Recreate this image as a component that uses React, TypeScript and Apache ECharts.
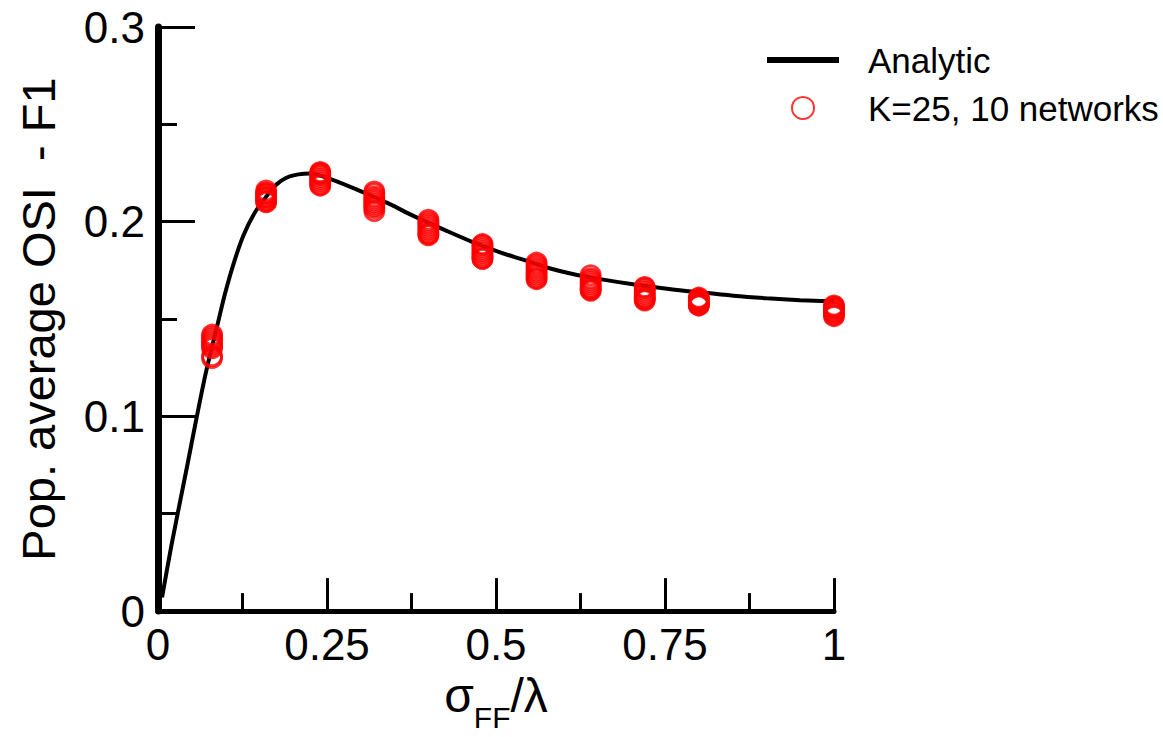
import React, { useEffect, useRef } from "react";
import * as echarts from "echarts";

// Analytic curve
const curveX = [0.006, 0.02, 0.04, 0.0695, 0.0893, 0.0991, 0.1114, 0.1262, 0.1435, 0.16, 0.1756, 0.19, 0.2076, 0.225, 0.2593, 0.2988, 0.343, 0.3777, 0.427, 0.4665, 0.506, 0.54, 0.575, 0.615, 0.654, 0.7, 0.753, 0.8, 0.851, 0.9, 0.95, 1.0];
const curveY = [0.007, 0.034, 0.069, 0.1204, 0.149, 0.163, 0.178, 0.1928, 0.2048, 0.2128, 0.2192, 0.2226, 0.2243, 0.2248, 0.2214, 0.2158, 0.209, 0.203, 0.1953, 0.1894, 0.1843, 0.1805, 0.1765, 0.173, 0.1705, 0.168, 0.1656, 0.1638, 0.162, 0.1607, 0.1597, 0.159];

// Simulation: K=25, 10 networks at each sigma value
const simX = [0.08, 0.16, 0.24, 0.32, 0.4, 0.48, 0.56, 0.64, 0.72, 0.8, 1.0];
const simY = [
  [0.142, 0.141, 0.14, 0.139, 0.138, 0.137, 0.136, 0.135, 0.131, 0.13],
  [0.216, 0.215, 0.2145, 0.214, 0.213, 0.2125, 0.212, 0.211, 0.2105, 0.21],
  [0.2255, 0.225, 0.2245, 0.224, 0.223, 0.222, 0.221, 0.22, 0.219, 0.2185],
  [0.2155, 0.2145, 0.213, 0.212, 0.211, 0.21, 0.209, 0.208, 0.207, 0.2055],
  [0.201, 0.2, 0.199, 0.198, 0.197, 0.196, 0.195, 0.194, 0.1935, 0.193],
  [0.1885, 0.188, 0.187, 0.186, 0.185, 0.184, 0.183, 0.182, 0.181, 0.181],
  [0.179, 0.178, 0.177, 0.176, 0.175, 0.174, 0.173, 0.172, 0.171, 0.1705],
  [0.1725, 0.171, 0.17, 0.169, 0.168, 0.167, 0.166, 0.1655, 0.165, 0.1645],
  [0.1665, 0.166, 0.165, 0.164, 0.163, 0.162, 0.161, 0.1605, 0.16, 0.1595],
  [0.161, 0.1605, 0.16, 0.1595, 0.159, 0.1585, 0.158, 0.1575, 0.157, 0.157],
  [0.157, 0.1565, 0.156, 0.1555, 0.155, 0.154, 0.1535, 0.153, 0.152, 0.1515],
];

const seriesNames = ["Analytic", "K=25, 10 networks"];
const yTitle = "Pop. average OSI  - F1";

const FONT = "'Liberation Sans', Arial, sans-serif";

export default function App() {
  const ref = useRef<HTMLDivElement>(null);
  useEffect(() => {
    if (!ref.current) return;
    const chart = echarts.init(ref.current, undefined, { renderer: "svg" });
    const curveData = curveX.map((x, i) => [x, curveY[i]]);
    const simData: number[][] = [];
    simX.forEach((x, i) => simY[i].forEach((y) => simData.push([x, y])));

    chart.setOption({
      animation: false,
      backgroundColor: "#ffffff",
      textStyle: { fontFamily: FONT },
      grid: { left: 158, right: 329, top: 27, bottom: 122, containLabel: false },
      legend: {
        orient: "vertical",
        left: 762,
        top: 37,
        itemWidth: 72,
        itemHeight: 22,
        itemGap: 12,
        selectedMode: false,
        symbolKeepAspect: true,
        textStyle: {
          fontFamily: FONT,
          fontSize: 35,
          color: "#000",
          lineHeight: 36,
          rich: {
            pad: { width: 24 },
            t: { fontFamily: FONT, fontSize: 35, color: "#000", lineHeight: 36 },
          },
        },
        formatter: (name: string) => "{pad|}{t|" + name + "}",
        data: [
          { name: seriesNames[0], icon: "path://M0,0 L72,0 L72,6 L0,6 Z", itemStyle: { color: "#000" } },
          { name: seriesNames[1] },
        ],
      },
      xAxis: {
        type: "value",
        min: 0,
        max: 1,
        interval: 0.25,
        name: "{s|σ}{sub|FF}{s|/λ}",
        nameLocation: "middle",
        nameGap: 52,
        nameTextStyle: {
          rich: {
            s: { fontFamily: FONT, fontSize: 48, color: "#000", lineHeight: 50, verticalAlign: "top" },
            sub: { fontFamily: FONT, fontSize: 30, color: "#000", lineHeight: 30, padding: [31, 0, 0, 0], verticalAlign: "top" },
          },
        },
        axisLine: { show: true, onZero: false, lineStyle: { color: "#000", width: 5 } },
        axisTick: { show: true, inside: true, length: 33, lineStyle: { color: "#000", width: 3 } },
        minorTick: { show: true, splitNumber: 2, length: 18, lineStyle: { color: "#000", width: 3 } },
        splitLine: { show: false },
        minorSplitLine: { show: false },
        axisLabel: {
          fontFamily: FONT,
          fontSize: 44,
          color: "#000",
          margin: 11,
          formatter: (v: number) => String(v),
        },
      },
      yAxis: {
        type: "value",
        min: 0,
        max: 0.3,
        interval: 0.1,
        name: yTitle,
        nameLocation: "middle",
        nameGap: 96,
        nameRotate: 90,
        nameTextStyle: { fontFamily: FONT, fontSize: 47, color: "#000" },
        axisLine: { show: true, onZero: false, lineStyle: { color: "#000", width: 7 } },
        axisTick: { show: true, inside: true, length: 37, lineStyle: { color: "#000", width: 3 } },
        minorTick: { show: true, splitNumber: 2, length: 19, lineStyle: { color: "#000", width: 3 } },
        splitLine: { show: false },
        minorSplitLine: { show: false },
        axisLabel: {
          fontFamily: FONT,
          fontSize: 44,
          color: "#000",
          margin: 13,
          formatter: (v: number) => String(Math.round(v * 10) / 10),
        },
      },
      series: [
        {
          name: seriesNames[0],
          type: "line",
          data: curveData,
          smooth: 0.3,
          showSymbol: false,
          symbol: "none",
          lineStyle: { color: "#000", width: 4 },
          itemStyle: { color: "#000" },
          z: 2,
        },
        {
          name: seriesNames[1],
          type: "scatter",
          data: simData,
          symbol: "circle",
          symbolSize: 19,
          itemStyle: { color: "rgba(255,255,255,0)", borderColor: "#ff0000", borderWidth: 2.8 },
          z: 3,
        },
      ],
    });
    return () => chart.dispose();
  }, []);
  return <div ref={ref} style={{ width: 1163, height: 737, position: "absolute", left: 0, top: 0 }} />;
}
